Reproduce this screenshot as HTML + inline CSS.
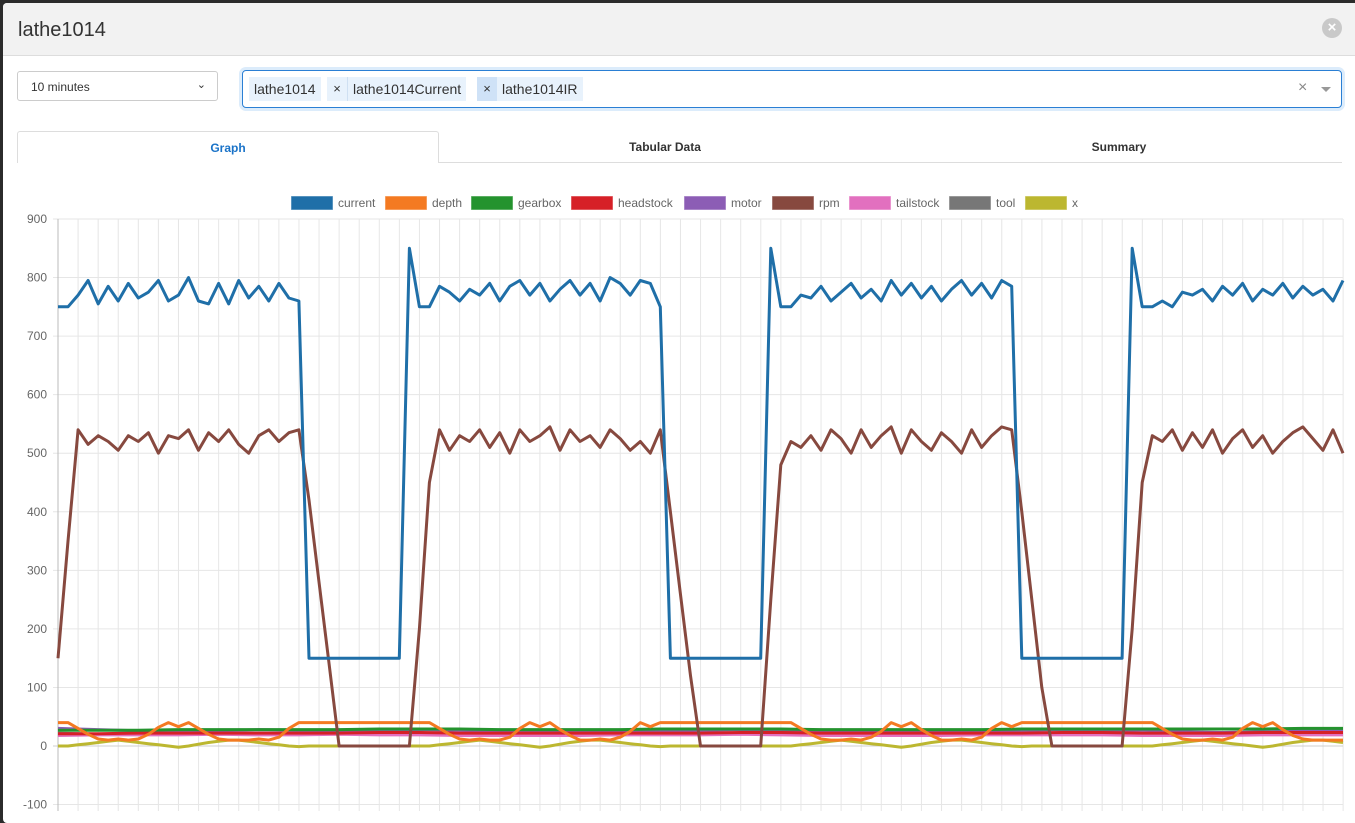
<!DOCTYPE html>
<html><head><meta charset="utf-8">
<style>
*{box-sizing:border-box}
body{margin:0;width:1355px;height:811px;overflow:hidden;background:#2b2b2b;font-family:"Liberation Sans",sans-serif;}
#modal{position:absolute;left:3px;top:3px;width:1360px;height:820px;background:#fff;border-radius:4px;overflow:hidden}
#hdr{position:absolute;left:0;top:0;width:100%;height:53px;background:#f2f2f2;border-bottom:1px solid #ddd}
#title{position:absolute;left:15px;top:16px;font-size:20px;color:#333}
#close{position:absolute;left:1319px;top:15px;width:20px;height:20px;border-radius:50%;background:#c9c9c9;color:#fff;font-size:15px;font-weight:bold;text-align:center;line-height:20px}
#sel{position:absolute;left:14px;top:68px;width:201px;height:30px;border:1px solid #ccc;border-radius:3px;font-size:12px;color:#333;padding:8px 0 0 13px}
#sel span{position:absolute;right:11px;top:6px;font-size:11px}
#multi{position:absolute;left:239px;top:67px;width:1100px;height:38px;border:1px solid #2a7fd4;border-radius:4px;box-shadow:0 0 0 3px #dcecfb}
.chip{position:absolute;top:6px;height:24px;background:#e8f2fc;font-size:14px;color:#333;line-height:24px;padding:0 5px}
.cx{position:absolute;top:6px;height:24px;font-size:13px;color:#333;line-height:24px;text-align:center;width:20px}
#tabs .tab{position:absolute;top:128px;height:32px;font-size:12px;font-weight:bold;color:#333;text-align:center;line-height:32px}
</style></head><body>
<div id="modal">
 <div id="hdr">
  <div id="title">lathe1014</div>
  <div id="close">×</div>
 </div>
 <div id="sel">10 minutes<span>⌄</span></div>
 <div id="multi">
  <div class="chip" style="left:6px">lathe1014</div>
  <div class="cx" style="left:84px;background:#e8f2fc">×</div>
  <div class="chip" style="left:104px;border-left:1px solid #cfe0f2">lathe1014Current</div>
  <div class="cx" style="left:234px;background:#cfe2f7">×</div>
  <div class="chip" style="left:254px">lathe1014IR</div>
  <div style="position:absolute;left:1055px;top:8px;font-size:16px;color:#888">×</div>
  <div style="position:absolute;left:1078px;top:16px;width:0;height:0;border-left:5px solid transparent;border-right:5px solid transparent;border-top:5px solid #999"></div>
 </div>
 <div id="tabs">
  <div style="position:absolute;left:435px;top:159px;width:904px;height:1px;background:#ddd"></div>
  <div class="tab" style="left:14px;width:422px;border:1px solid #ddd;border-bottom:none;border-radius:3px 3px 0 0;color:#1a73c8;background:#fff">Graph</div>
  <div class="tab" style="left:436px;width:452px">Tabular Data</div>
  <div class="tab" style="left:890px;width:452px">Summary</div>
 </div>
</div>
<svg id="chart" width="1355" height="811" style="position:absolute;left:0;top:0"></svg>
<script>
const times=[];for(let i=0;i<129;i++)times.push(i);
const coarseTimes=[];for(let i=0;i<33;i++)coarseTimes.push(i*4);
const yTicks=[-100,0,100,200,300,400,500,600,700,800,900];
const current=[750,750,770,795,755,785,760,790,765,775,795,760,770,800,760,755,790,755,795,765,785,760,790,765,760,
150,150,150,150,150,150,150,150,150,150,850,
750,750,785,775,760,780,770,790,760,785,795,770,790,760,780,795,770,790,760,800,790,770,795,790,750,
150,150,150,150,150,150,150,150,150,150,850,
750,750,770,765,785,760,775,790,765,780,760,795,770,790,765,785,760,780,795,770,790,765,795,785,
150,150,150,150,150,150,150,150,150,150,150,850,
750,750,760,750,775,770,780,760,785,770,790,760,780,770,790,765,785,770,780,760,795];
const rpm=[150,350,540,515,530,520,505,530,520,535,500,530,525,540,505,535,520,540,515,500,530,540,520,535,540,
420,280,140,0,0,0,0,0,0,0,0,200,450,540,
505,530,520,540,510,535,500,540,520,530,545,505,540,520,530,510,540,525,505,520,500,540,
400,260,120,0,0,0,0,0,0,0,250,480,520,
510,530,505,540,525,500,540,510,530,545,500,540,520,505,535,520,500,540,510,530,545,540,
400,250,100,0,0,0,0,0,0,0,0,200,450,530,
520,540,505,535,510,540,500,525,540,510,530,500,520,535,545,525,505,540,500];
const depth=[40,40,30,20,12,10,12,10,12,20,32,40,33,40,30,20,12,10,10,10,12,10,15,30,40,
40,40,40,40,40,40,40,40,40,40,40,40,40,
30,20,12,10,12,10,10,15,30,40,33,40,28,18,10,10,12,10,15,25,40,33,40,
40,40,40,40,40,40,40,40,40,40,40,40,40,
30,20,12,10,10,12,10,15,25,40,33,40,28,18,10,10,12,10,15,30,40,33,40,
40,40,40,40,40,40,40,40,40,40,40,40,40,
30,20,12,10,10,12,10,15,30,40,33,40,28,18,12,10,10,10,10];
const xPos=[0,0,2,4,6,8,10,8,6,4,2,0,-2,0,3,6,8,10,10,8,6,4,2,0,-1,
0,0,0,0,0,0,0,0,0,0,0,0,0,
2,4,6,8,10,8,6,4,2,0,-2,0,3,6,8,10,10,8,6,4,2,0,-1,
0,0,0,0,0,0,0,0,0,0,0,0,0,
2,4,6,8,10,8,6,4,2,0,-2,0,3,6,8,10,10,8,6,4,2,0,-1,
0,0,0,0,0,0,0,0,0,0,0,0,0,
2,4,6,8,10,8,6,4,2,0,-2,0,3,6,8,10,10,8,6];
const gearbox=[27,27,27,28,28,28,28,28,29,29,29,28,28,28,28,29,29,29,29,28,28,28,28,28,29,29,29,29,29,29,29,30,30];
const headstock=[21,21,22,22,22,22,22,22,23,23,22,22,22,22,22,22,22,23,23,22,22,22,22,22,22,23,23,22,22,22,23,23,23];
const motor=[30,28,26,27,26,28,27,26,27,28,27,24,23,24,23,25,27,28,27,26,24,23,24,25,27,28,26,27,24,23,24,26,27];
const tailstock=[18,19,19,19,20,19,19,20,19,19,18,18,18,18,19,19,19,20,19,18,18,18,18,19,19,19,19,18,18,18,19,19,19];
const tool=[22,20,21,22,20,21,22,21,22,21,20,19,18,19,19,21,22,21,20,19,18,19,19,21,22,21,20,19,18,19,20,21,22];
const legendNames=["current","depth","gearbox","headstock","motor","rpm","tailstock","tool","x"];
const colors=["#1f6fa8","#f47a22","#24932e","#d62027","#8c5db5","#87493f","#e270bf","#777777","#bcb730"];
const legendX=[291,385,471,571,684,772,849,949,1025];

const L=58,R=1343,T=219;
const xs=i=>L+(R-L)*i/128;
const ys=v=>746-v*(527/900);
const svg=document.getElementById('chart');
const NS='http://www.w3.org/2000/svg';
function mk(t,a){const e=document.createElementNS(NS,t);for(const k in a)e.setAttribute(k,a[k]);svg.appendChild(e);return e;}
// grid
for(let gx=L;gx<=R+1;gx+=20.08){const g=mk('line',{x1:gx,x2:gx,y1:T,y2:811,stroke:'#e6e6e6','stroke-width':1});

}
yTicks.forEach(v=>{const g=mk('line',{x1:L-5,x2:R,y1:ys(v),y2:ys(v),stroke:v===0?'#cfcfcf':'#e6e6e6','stroke-width':1});


const t=mk('text',{x:L-11,y:ys(v)+4,'text-anchor':'end','font-size':12,fill:'#666','font-family':'Liberation Sans, sans-serif'});
t.textContent=v;

});
const ax=mk('line',{x1:L,x2:L,y1:T,y2:811,stroke:'#bbb','stroke-width':1});


// legend
legendNames.forEach((n,k)=>{const r=mk('rect',{x:legendX[k],y:196,width:42,height:14,fill:colors[k],stroke:'rgba(255,255,255,0.5)'});


const t=mk('text',{x:legendX[k]+47,y:207,'font-size':12,fill:'#666','font-family':'Liberation Sans, sans-serif'});
t.textContent=n;

});
function line(vals,idx,color,name){const d=vals.map((v,i)=>(i?'L':'M')+xs(idx[i]).toFixed(1)+' '+ys(v).toFixed(1)).join(' ');
const p=mk('path',{d:d,fill:'none',stroke:color,'stroke-width':3,'stroke-linejoin':'round'});

}
line(tool,coarseTimes,colors[7],'tool');
line(tailstock,coarseTimes,colors[6],'tailstock');
line(motor,coarseTimes,colors[4],'motor');
line(headstock,coarseTimes,colors[3],'headstock');
line(gearbox,coarseTimes,colors[2],'gearbox');
line(xPos,times,colors[8],'x');
line(depth,times,colors[1],'depth');
line(rpm,times,colors[5],'rpm');
line(current,times,colors[0],'current');
</script>
</body></html>
